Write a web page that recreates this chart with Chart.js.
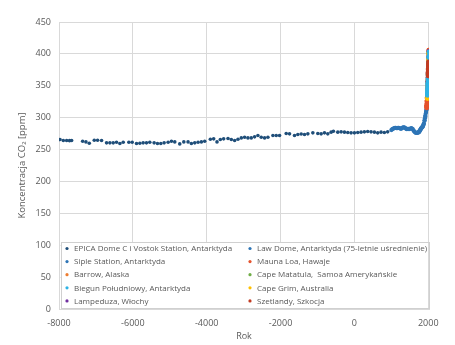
<!DOCTYPE html>
<html><head><meta charset="utf-8">
<script src="https://cdn.jsdelivr.net/npm/chart.js@4/dist/chart.umd.min.js"></script>
<style>html,body{margin:0;padding:0;background:#fff;}#wrap{width:455px;height:345px;}</style>
</head><body><div id="wrap"><canvas id="c" width="455" height="345"></canvas></div>
<script>
// ---- data (years, CO2 ppm) ----
const xTicks = [-8000, -6000, -4000, -2000, 0, 2000];
const yTicks = [0, 50, 100, 150, 200, 250, 300, 350, 400, 450];
const xAxisMin = -8000, xAxisMax = 2020;

const epicaYears = [-7973,-7883,-7793,-7715,-7658,-7360,-7270,-7180,-7045,-6955,-6847,-6712,-6622,-6532,-6442,-6351,-6261,-6108,-6018,-5901,-5811,-5721,-5631,-5541,-5424,-5333,-5243,-5153,-5045,-4955,-4865,-4730,-4620,-4505,-4415,-4324,-4234,-4144,-4054,-3901,-3811,-3721,-3631,-3541,-3423,-3333,-3243,-3153,-3063,-2973,-2883,-2793,-2703,-2613,-2523,-2432,-2342,-2207,-2117,-2027,-1847,-1757,-1622,-1532,-1441,-1351,-1261,-1126,-991,-901,-811,-721,-631,-568,-450,-360,-270,-180,-90,0,90,180,270,360,450,541,631,721,811,901];
const epicaValues = [265.7,264.2,264.2,264.0,264.2,263.1,262.0,260.0,264.7,264.7,264.2,260.5,260.5,260.5,261.5,259.4,261.5,261.5,261.5,259.4,260.0,260.5,260.5,261.5,260.5,259.4,259.4,260.5,261.5,263.1,262.0,258.9,262.0,262.0,259.4,260.5,261.5,262.0,263.1,266.2,266.8,262.0,265.7,266.8,267.3,265.7,264.2,266.2,268.3,269.4,268.3,268.3,269.9,272.0,269.4,268.3,269.4,272.0,272.0,272.0,275.2,274.6,272.0,273.6,274.4,273.6,274.6,276.2,275.2,274.6,276.2,274.6,277.3,278.8,277.3,277.8,277.3,276.7,276.2,276.2,276.7,277.3,277.8,278.3,277.8,277.3,276.2,277.3,276.7,277.8];

const lawDomeYears = [1000,1020,1040,1060,1080,1100,1120,1140,1160,1180,1200,1220,1240,1260,1280,1300,1320,1340,1360,1380,1400,1420,1440,1460,1480,1500,1520,1540,1560,1580,1600,1620,1640,1660,1680,1700,1720,1740,1760,1780,1800,1820,1840,1860,1880,1900,1910,1920,1930,1940,1950,1960,1970,1978];
const lawDomeValues = [280.5,281.5,282.5,283.0,283.5,284.0,284.0,283.5,283.5,284.0,284.0,283.5,283.0,282.5,283.0,284.0,285.0,285.0,284.5,283.5,282.5,282.0,282.5,282.5,282.0,282.5,283.0,283.5,283.0,282.0,280.0,278.5,277.0,276.5,276.0,276.0,276.5,277.5,279.0,281.0,283.0,284.0,285.5,288.0,291.0,296.0,299.0,303.0,306.0,309.0,312.0,317.0,325.0,333.0];

const sipleYears = [1744,1760,1780,1800,1820,1840,1860,1880,1900,1920,1940,1953];
const sipleValues = [277,278,280,282,284,285,287,290,295,302,309,313];

const maunaLoaYears = [1958,1959,1960,1961,1962,1963,1964,1965,1966,1967,1968,1969,1970,1971,1972,1973,1974,1975,1976,1977,1978,1979,1980,1981,1982,1983,1984,1985,1986,1987,1988,1989,1990,1991,1992,1993,1994,1995,1996,1997,1998,1999,2000,2001,2002,2003,2004,2005,2006,2007,2008,2009,2010,2011,2012,2013,2014,2015,2016,2017];
const maunaLoaValues = [315.3,316.0,316.9,317.6,318.5,319.0,319.6,320.0,321.4,322.2,323.0,324.6,325.7,326.3,327.5,329.7,330.2,331.1,332.1,333.8,335.4,336.8,338.8,340.1,341.4,343.0,344.6,346.0,347.4,349.2,351.6,353.1,354.4,355.6,356.4,357.1,358.8,360.8,362.6,363.7,366.7,368.4,369.7,371.3,373.5,375.8,377.5,379.8,381.9,383.8,385.6,387.4,389.9,391.7,393.9,396.5,398.6,400.8,404.2,406.0];

const barrowYears = [1971,1975,1979,1983,1987,1991,1995,1999,2003,2007,2011,2015,2017];
const barrowValues = [327,332,338,343,349,356,362,369,377,385,393,402,406];

const matatulaYears = [1976,1980,1984,1988,1992,1996,2000,2004,2008,2012,2016];
const matatulaValues = [331,337,342,349,354,360,368,375,383,391,401];

const capeGrimYears = [1976,1980,1984,1988,1992,1996,2000,2004,2008,2011,2012,2015,2016];
const capeGrimValues = [330,336,341,348,353,359,367,374,382,390,392,400,402];

const lampedusaYears = [1992,1996,2000,2004,2008,2012,2016];
const lampedusaValues = [357,363,371,378,387,395,404];

const biegunYears = [1979,1980,1981,1982,1983,1984,1985,1986,1987,1988,1989,1990,1991,1992,1993,1994,1995,1996,1997,1998,1999,2000,2001,2002,2003,2004,2005,2006,2007,2008,2009,2010,2013,2014,2017];
const biegunValues = [335.0,336.5,338.0,339.3,340.6,342.3,343.8,345.3,346.6,348.5,350.5,352.0,353.3,354.1,354.8,356.4,358.3,360.3,361.8,363.8,366.3,367.9,369.3,371.0,373.0,375.0,377.3,379.0,381.3,383.4,385.0,387.0,393.8,396.3,403.0];

const szetlandyYears = [1997,1998,1999,2000,2001,2002,2003,2004,2005,2006,2007,2008];
const szetlandyValues = [365.5,367.5,369.5,371.0,372.8,375.0,377.5,379.3,381.5,383.5,385.5,387.5];

// ---- labels & colours ----
const seriesLabels = {
  epica: 'EPICA Dome C i Vostok Station, Antarktyda',
  siple: 'Siple Station, Antarktyda',
  barrow: 'Barrow, Alaska',
  biegun: 'Biegun Południowy, Antarktyda',
  lampedusa: 'Lampeduza, Włochy',
  lawDome: 'Law Dome, Antarktyda (75-letnie uśrednienie)',
  maunaLoa: 'Mauna Loa, Hawaje',
  matatula: 'Cape Matatula,  Samoa Amerykańskie',
  capeGrim: 'Cape Grim, Australia',
  szetlandy: 'Szetlandy, Szkocja'
};
const seriesColors = {
  epica: '#1F4E79', siple: '#2E75B6', barrow: '#ED7D31', biegun: '#2DB3E6',
  lampedusa: '#7030A0', lawDome: '#2E75B6', maunaLoa: '#E5532E', matatula: '#70AD47',
  capeGrim: '#FFC000', szetlandy: '#C23B22'
};
const legendLeft = ['epica','siple','barrow','biegun','lampedusa'];
const legendRight = ['lawDome','maunaLoa','matatula','capeGrim','szetlandy'];

function pts(xs, ys){ return xs.map((x,i)=>({x:x, y:ys[i]})); }
// drawing order: first dataset in list is drawn on top
const seriesData = {
  szetlandy: [szetlandyYears, szetlandyValues, 2.4],
  biegun: [biegunYears, biegunValues, 2.4],
  capeGrim: [capeGrimYears, capeGrimValues, 2.4],
  matatula: [matatulaYears, matatulaValues, 2.4],
  lampedusa: [lampedusaYears, lampedusaValues, 2.4],
  maunaLoa: [maunaLoaYears, maunaLoaValues, 2.4],
  barrow: [barrowYears, barrowValues, 2.4],
  siple: [sipleYears, sipleValues, 2.1],
  lawDome: [lawDomeYears, lawDomeValues, 2.1],
  epica: [epicaYears, epicaValues, 1.8]
};
const datasets = Object.keys(seriesData).map((k, i) => ({
  key: k,
  label: seriesLabels[k],
  data: pts(seriesData[k][0], seriesData[k][1]),
  backgroundColor: seriesColors[k],
  borderColor: seriesColors[k],
  pointRadius: seriesData[k][2],
  pointBorderWidth: 0,
  showLine: false,
  order: i
}));

const FONT = '"Open Sans", "DejaVu Sans", sans-serif';

const legendPlugin = {
  id: 'boxLegend',
  afterDraw(chart) {
    const ctx = chart.ctx, a = chart.chartArea;
    const bx = a.left + 1.5, by = a.bottom - 67, bw = a.right - a.left - 2.5, bh = 66;
    ctx.save();
    ctx.fillStyle = '#ffffff';
    ctx.fillRect(bx, by, bw, bh);
    ctx.strokeStyle = '#D0D0D0';
    ctx.lineWidth = 1;
    ctx.strokeRect(Math.round(bx)+0.5, Math.round(by)+0.5, Math.round(bw), Math.round(bh));
    ctx.font = '8px ' + FONT;
    ctx.textBaseline = 'middle';
    const rowH = 13.1;
    const cols = [[legendLeft, bx + 6.5], [legendRight, bx + 189.5]];
    cols.forEach(([keys, cx]) => {
      keys.forEach((k, r) => {
        const cy = by + 6.5 + r * rowH;
        ctx.fillStyle = seriesColors[k];
        ctx.beginPath(); ctx.arc(cx, cy, 1.6, 0, Math.PI*2); ctx.fill();
        ctx.fillStyle = '#595959';
        ctx.fillText(seriesLabels[k], cx + 7, cy + 0.5);
      });
    });
    ctx.restore();
  }
};

new Chart(document.getElementById('c'), {
  type: 'scatter',
  data: { datasets },
  options: {
    responsive: false,
    animation: false,
    events: [],
    layout: { padding: { left: 0, right: 26, top: 22, bottom: 0 } },
    plugins: { legend: { display: false }, tooltip: { enabled: false } },
    scales: {
      x: {
        type: 'linear', min: xAxisMin, max: xAxisMax,
        afterBuildTicks: s => { s.ticks = xTicks.map(v => ({value: v})); },
        afterFit: s => { s.height = 36; },
        grid: { color: '#D9D9D9', drawTicks: false, lineWidth: 1 },
        border: { color: '#D9D9D9' },
        ticks: { color: '#595959', font: { family: FONT, size: 9 }, padding: 9, maxRotation: 0, callback: v => String(v) },
        title: { display: true, text: 'Rok', color: '#595959', font: { family: FONT, size: 9 }, padding: { top: 0, bottom: 3 } }
      },
      y: {
        type: 'linear', min: yTicks[0], max: yTicks[yTicks.length-1],
        afterBuildTicks: s => { s.ticks = yTicks.map(v => ({value: v})); },
        afterFit: s => { s.width = 59; },
        grid: { color: '#D9D9D9', drawTicks: false, lineWidth: 1 },
        border: { color: '#D9D9D9' },
        ticks: { color: '#595959', font: { family: FONT, size: 9 }, padding: 8, callback: v => String(v) },
        title: { display: true, text: 'Koncentracja CO₂ [ppm]', color: '#595959', font: { family: FONT, size: 9.5 }, padding: { top: 17, bottom: 0 } }
      }
    }
  },
  plugins: [legendPlugin]
});
</script>
</body></html>
